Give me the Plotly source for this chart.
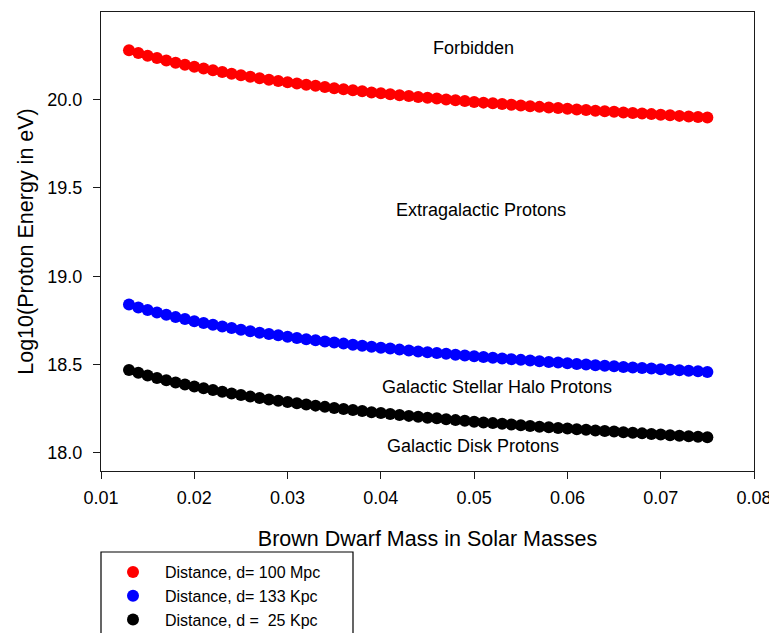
import plotly.graph_objects as go

mass = [0.013, 0.014, 0.015, 0.016, 0.017, 0.018, 0.019, 0.020, 0.021, 0.022,
        0.023, 0.024, 0.025, 0.026, 0.027, 0.028, 0.029, 0.030, 0.031, 0.032,
        0.033, 0.034, 0.035, 0.036, 0.037, 0.038, 0.039, 0.040, 0.041, 0.042,
        0.043, 0.044, 0.045, 0.046, 0.047, 0.048, 0.049, 0.050, 0.051, 0.052,
        0.053, 0.054, 0.055, 0.056, 0.057, 0.058, 0.059, 0.060, 0.061, 0.062,
        0.063, 0.064, 0.065, 0.066, 0.067, 0.068, 0.069, 0.070, 0.071, 0.072,
        0.073, 0.074, 0.075]

e_100mpc = [20.280, 20.264, 20.249, 20.235, 20.222, 20.209, 20.198, 20.186, 20.176, 20.166,
            20.156, 20.147, 20.138, 20.129, 20.121, 20.113, 20.106, 20.098, 20.091, 20.084,
            20.078, 20.071, 20.065, 20.059, 20.053, 20.047, 20.041, 20.036, 20.031, 20.025,
            20.020, 20.015, 20.010, 20.006, 20.001, 19.996, 19.992, 19.987, 19.983, 19.979,
            19.975, 19.971, 19.967, 19.963, 19.959, 19.955, 19.952, 19.948, 19.944, 19.941,
            19.937, 19.934, 19.931, 19.927, 19.924, 19.921, 19.918, 19.914, 19.911, 19.908,
            19.905, 19.902, 19.899]

e_133kpc = [18.840, 18.824, 18.809, 18.795, 18.782, 18.769, 18.758, 18.746, 18.736, 18.726,
            18.716, 18.707, 18.698, 18.689, 18.681, 18.673, 18.666, 18.658, 18.651, 18.644,
            18.638, 18.631, 18.625, 18.619, 18.613, 18.607, 18.601, 18.596, 18.591, 18.585,
            18.580, 18.575, 18.570, 18.566, 18.561, 18.556, 18.552, 18.547, 18.543, 18.539,
            18.535, 18.531, 18.527, 18.523, 18.519, 18.515, 18.512, 18.508, 18.504, 18.501,
            18.497, 18.494, 18.491, 18.487, 18.484, 18.481, 18.478, 18.474, 18.471, 18.468,
            18.465, 18.462, 18.459]

e_25kpc = [18.470, 18.454, 18.439, 18.425, 18.412, 18.399, 18.388, 18.376, 18.366, 18.356,
           18.346, 18.337, 18.328, 18.319, 18.311, 18.303, 18.296, 18.288, 18.281, 18.274,
           18.268, 18.261, 18.255, 18.249, 18.243, 18.237, 18.231, 18.226, 18.221, 18.215,
           18.210, 18.205, 18.200, 18.196, 18.191, 18.186, 18.182, 18.177, 18.173, 18.169,
           18.165, 18.161, 18.157, 18.153, 18.149, 18.145, 18.142, 18.138, 18.134, 18.131,
           18.127, 18.124, 18.121, 18.117, 18.114, 18.111, 18.108, 18.104, 18.101, 18.098,
           18.095, 18.092, 18.089]

series_names = ["Distance, d= 100 Mpc", "Distance, d= 133 Kpc", "Distance, d =  25 Kpc"]
series_colors = ["#ff0000", "#0000ff", "#000000"]
series_values = [e_100mpc, e_133kpc, e_25kpc]

region_labels = ["Forbidden", "Extragalactic Protons",
                 "Galactic Stellar Halo Protons", "Galactic Disk Protons"]
region_x = [0.0499, 0.0507, 0.0525, 0.0499]
region_y = [20.295, 19.376, 18.374, 18.040]

x_ticks = [0.01, 0.02, 0.03, 0.04, 0.05, 0.06, 0.07, 0.08]
x_ticklabels = ["0.01", "0.02", "0.03", "0.04", "0.05", "0.06", "0.07", "0.08"]
y_ticks = [18.0, 18.5, 19.0, 19.5, 20.0]
y_ticklabels = ["18.0", "18.5", "19.0", "19.5", "20.0"]

FONT = "Liberation Sans, Arial, sans-serif"

fig = go.Figure()
for name, color, vals in zip(series_names, series_colors, series_values):
    fig.add_trace(go.Scatter(
        x=mass, y=vals, mode="markers", name=name,
        marker=dict(color=color, size=12, line=dict(width=0)),
    ))

for txt, xx, yy in zip(region_labels, region_x, region_y):
    fig.add_annotation(x=xx, y=yy, xref="x", yref="y", text=txt, showarrow=False,
                       font=dict(family=FONT, size=18, color="#000000"),
                       xanchor="center", yanchor="middle")

# page body has an 8px offset; figure coordinates below are window coords - 8
W, H = 769, 625
ml, mr, mt, mb = 93, 23, 4, 162
pw = W - ml - mr
ph = H - mt - mb

def px_to_paper_x(px):
    return (px - 8 - ml) / pw

def px_to_paper_y(py):
    return (H - mb - (py - 8)) / ph

# legend frame (extends below the figure like the reference)
fig.add_shape(type="rect", xref="paper", yref="paper",
              x0=px_to_paper_x(101), x1=px_to_paper_x(353),
              y0=px_to_paper_y(660), y1=px_to_paper_y(552),
              line=dict(color="#000000", width=1.2), fillcolor="rgba(0,0,0,0)")

fig.update_layout(
    width=W, height=H,
    margin=dict(l=ml, r=mr, t=mt, b=mb, pad=0, autoexpand=False),
    paper_bgcolor="white", plot_bgcolor="white",
    font=dict(family=FONT, size=18, color="#000000"),
    showlegend=True,
    legend=dict(x=px_to_paper_x(101), y=px_to_paper_y(555), xanchor="left", yanchor="top",
                bgcolor="rgba(0,0,0,0)", borderwidth=0,
                font=dict(family=FONT, size=16, color="#000000"),
                tracegroupgap=0, itemsizing="constant", itemwidth=54),
    xaxis=dict(range=[0.01, 0.08], tickvals=x_ticks, ticktext=x_ticklabels,
               showgrid=False, zeroline=False, showline=True, linecolor="#1a1a1a",
               linewidth=1.3, mirror=True, ticks="outside", ticklen=7, tickwidth=1.3,
               tickcolor="#1a1a1a", tickfont=dict(size=18), ticklabelstandoff=3,
               automargin=False,
               title=dict(text="Brown Dwarf Mass in Solar Masses", font=dict(size=21.5),
                          standoff=24)),
    yaxis=dict(range=[17.898, 20.496], tickvals=y_ticks, ticktext=y_ticklabels,
               showgrid=False, zeroline=False, showline=True, linecolor="#1a1a1a",
               linewidth=1.3, mirror=True, ticks="outside", ticklen=7, tickwidth=1.3,
               tickcolor="#1a1a1a", tickfont=dict(size=18), ticklabelstandoff=7,
               automargin=False,
               title=dict(text="Log10(Proton Energy in eV)", font=dict(size=21.5),
                          standoff=7)),
)

fig.write_html("out.html")
